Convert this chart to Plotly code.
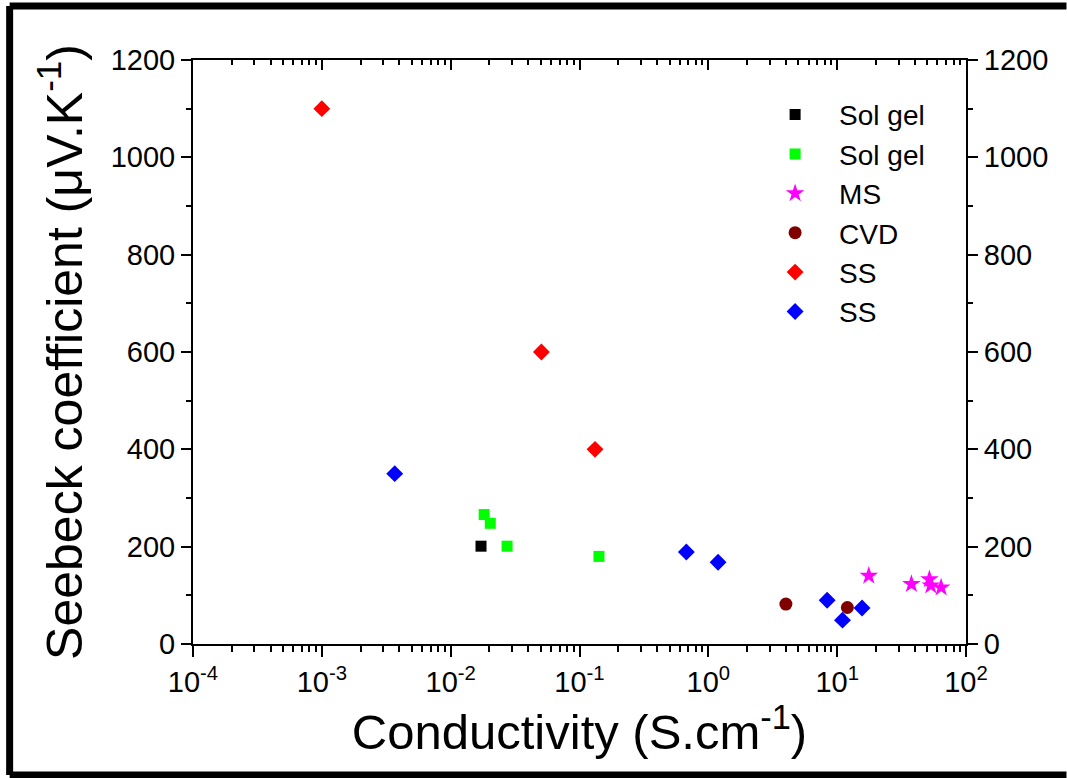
import plotly.graph_objects as go

# ---- data ----
solgel_black_x = [0.0172]
solgel_black_y = [201]
solgel_green_x = [0.0182, 0.0203, 0.0274, 0.1416]
solgel_green_y = [266, 248, 201, 180]
ms_x = [17.6, 37.7, 52.0, 53.3, 64.1]
ms_y = [140, 123, 133, 120, 116]
cvd_x = [4.0, 12.0]
cvd_y = [82, 75]
ss_red_x = [0.001, 0.0506, 0.132]
ss_red_y = [1100, 600, 400]
ss_blue_x = [0.00368, 0.675, 1.19, 8.36, 11.0, 15.6]
ss_blue_y = [350, 189, 168, 90, 49, 74]

x_tick_vals = [1e-4, 1e-3, 1e-2, 1e-1, 1e0, 1e1, 1e2]
x_tick_text = ["10<sup>-4</sup>", "10<sup>-3</sup>", "10<sup>-2</sup>", "10<sup>-1</sup>",
               "10<sup>0</sup>", "10<sup>1</sup>", "10<sup>2</sup>"]
x_minor_vals = [k * 10.0 ** e for e in range(-4, 2) for k in range(2, 10)]

FONT = "Liberation Sans, Arial, sans-serif"

series = [
    ("Sol gel", solgel_black_x, solgel_black_y, "square", "#000000", 11),
    ("Sol gel", solgel_green_x, solgel_green_y, "square", "#00FF00", 11),
    ("MS", ms_x, ms_y, "star", "#FF00FF", 14),
    ("CVD", cvd_x, cvd_y, "circle", "#800000", 13),
    ("SS", ss_red_x, ss_red_y, "diamond", "#FF0000", 13),
    ("SS", ss_blue_x, ss_blue_y, "diamond", "#0000FF", 13),
]

fig = go.Figure()
for i, (name, xs, ys, sym, col, sz) in enumerate(series):
    fig.add_trace(go.Scatter(
        x=xs, y=ys, mode="markers", name=name, legendgroup=f"g{i}",
        marker=dict(symbol=sym, color=col, size=sz, line=dict(width=0)),
    ))

# empty trace to activate the mirrored top/right axes
fig.add_trace(go.Scatter(x=[], y=[], xaxis="x2", yaxis="y2", showlegend=False,
                         hoverinfo="skip"))

axis_common = dict(showline=True, linecolor="black", linewidth=2, showgrid=False,
                   zeroline=False, tickcolor="black", tickwidth=2,
                   tickfont=dict(family=FONT, size=29, color="black"))

fig.update_layout(
    width=1067, height=778,
    margin=dict(l=192.5, r=101, t=60, b=134),
    paper_bgcolor="white", plot_bgcolor="white",
    font=dict(family=FONT, color="black"),
    xaxis=dict(type="log", range=[-4, 2], autorange=False,
               tickmode="array", tickvals=x_tick_vals, ticktext=x_tick_text,
               ticks="outside", ticklen=11,
               minor=dict(tickmode="array", tickvals=x_minor_vals, ticks="outside",
                          ticklen=6, tickwidth=2, tickcolor="black"),
               title=dict(text="Conductivity (S.cm<sup>-1</sup>)",
                          font=dict(family=FONT, size=49, color="black"), standoff=2),
               **axis_common),
    yaxis=dict(range=[0, 1200], autorange=False, dtick=200, tick0=0,
               ticks="outside", ticklen=10,
               minor=dict(dtick=100, ticks="outside", ticklen=5, tickwidth=2,
                          tickcolor="black"),
               title=dict(text="Seebeck coefficient (μV.K<sup>-1</sup>)",
                          font=dict(family=FONT, size=50, color="black"), standoff=12),
               **axis_common),
    xaxis2=dict(type="log", range=[-4, 2], autorange=False, overlaying="x", side="top",
                anchor="y", tickmode="array", tickvals=x_tick_vals,
                showticklabels=False, ticks="inside", ticklen=10,
                minor=dict(tickmode="array", tickvals=x_minor_vals, ticks="inside",
                           ticklen=5, tickwidth=2, tickcolor="black"),
                **axis_common),
    yaxis2=dict(range=[0, 1200], autorange=False, dtick=200, tick0=0,
                overlaying="y", side="right", anchor="x",
                ticks="outside", ticklen=10,
                minor=dict(dtick=100, ticks="outside", ticklen=5, tickwidth=2,
                           tickcolor="black"),
                **axis_common),
    legend=dict(x=0.722, y=0.949, xanchor="left", yanchor="top",
                bgcolor="rgba(0,0,0,0)", borderwidth=0, itemwidth=78,
                tracegroupgap=0,
                font=dict(family=FONT, size=28, color="black")),
    showlegend=True,
)

# outer frame of the figure
frame = dict(type="line", xref="paper", yref="paper", line=dict(color="black", width=7))
L, R, T, B = -0.2372, 1.13, 1.0925, -0.2243
fig.add_shape(x0=L, x1=L, y0=B, y1=T, **frame)
fig.add_shape(x0=L, x1=R, y0=T, y1=T, **frame)
fig.add_shape(x0=L, x1=R, y0=B, y1=B, **frame)

fig.write_html("out.html")
